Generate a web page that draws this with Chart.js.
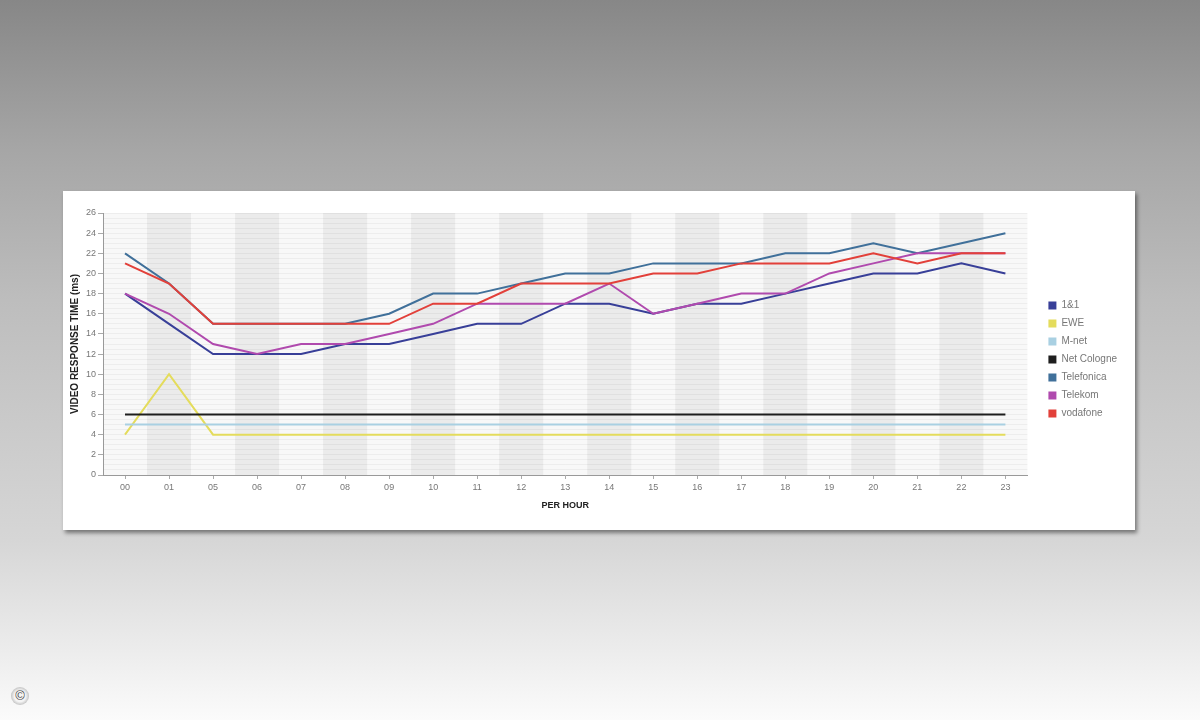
<!DOCTYPE html>
<html>
<head>
<meta charset="utf-8">
<script src="https://cdn.jsdelivr.net/npm/chart.js@4.4.1/dist/chart.umd.min.js"></script>
<style>
  html, body { margin: 0; padding: 0; }
  body {
    width: 1200px; height: 720px; overflow: hidden; position: relative;
    background: linear-gradient(to bottom, #878787 0px, #a6a6a6 150px, #bdbdbd 300px, #d6d6d6 540px, #ececec 650px, #fbfbfb 720px);
    font-family: "Liberation Sans", Arial, sans-serif;
  }
  #card {
    position: absolute; left: 63px; top: 191px; width: 1072px; height: 339px;
    background: #fff; box-shadow: 2px 3px 4px rgba(0,0,0,0.45);
  }
  #copy {
    position: absolute; left: 11px; top: 687px; width: 18px; height: 18px;
    border-radius: 50%; background: radial-gradient(#f4f4f4 45%, #bbb 75%, #888 100%);
    color: #444; font-size: 13px; line-height: 18px; text-align: center;
  }
</style>
</head>
<body>
<div id="card"><canvas id="chart" width="1072" height="339"></canvas></div>
<div id="copy">©</div>
<script>
const hours = ["00", "01", "05", "06", "07", "08", "09", "10", "11", "12", "13",
  "14", "15", "16", "17", "18", "19", "20", "21", "22", "23"];

const oneAndOne  = [18, 15, 12, 12, 12, 13, 13, 14, 15, 15, 17, 17, 16, 17, 17, 18, 19, 20, 20, 21, 20];
const ewe        = [4, 10, 4, 4, 4, 4, 4, 4, 4, 4, 4, 4, 4, 4, 4, 4, 4, 4, 4, 4, 4];
const mnet       = [5, 5, 5, 5, 5, 5, 5, 5, 5, 5, 5, 5, 5, 5, 5, 5, 5, 5, 5, 5, 5];
const netCologne = [6, 6, 6, 6, 6, 6, 6, 6, 6, 6, 6, 6, 6, 6, 6, 6, 6, 6, 6, 6, 6];
const telefonica = [22, 19, 15, 15, 15, 15, 16, 18, 18, 19, 20, 20, 21, 21, 21, 22, 22, 23, 22, 23, 24];
const telekom    = [18, 16, 13, 12, 13, 13, 14, 15, 17, 17, 17, 19, 16, 17, 18, 18, 20, 21, 22, 22, 22];
const vodafone   = [21, 19, 15, 15, 15, 15, 15, 17, 17, 19, 19, 19, 20, 20, 21, 21, 21, 22, 21, 22, 22];

const yTicks = { min: 0, max: 26, step: 2 };

const FONT = '"Liberation Sans", Arial, sans-serif';

function line(label, data, color, order) {
  return {
    label: label,
    data: data,
    borderColor: color,
    backgroundColor: color,
    borderWidth: 2,
    pointRadius: 0,
    tension: 0,
    fill: false,
    order: order,
  };
}

// grey / white columns behind the lines
const columnBands = {
  id: "columnBands",
  beforeDraw(chart) {
    const { ctx, chartArea, scales } = chart;
    const x = scales.x;
    const half = (x.getPixelForValue(1) - x.getPixelForValue(0)) / 2;
    ctx.save();
    ctx.fillStyle = "#f8f8f8";
    ctx.fillRect(chartArea.left, chartArea.top, chartArea.right - chartArea.left, chartArea.bottom - chartArea.top);
    ctx.fillStyle = "#ebebeb";
    hours.forEach((h, i) => {
      if (i % 2 === 1) {
        const c = x.getPixelForValue(i);
        ctx.fillRect(c - half, chartArea.top, half * 2, chartArea.bottom - chartArea.top);
      }
    });
    ctx.restore();
  },
};

new Chart(document.getElementById("chart"), {
  type: "line",
  data: {
    labels: hours,
    datasets: [
      line("1&1", oneAndOne, "#383f98", 2),
      line("EWE", ewe, "#e4dc5c", 6),
      line("M-net", mnet, "#a9d0e2", 5),
      line("Net Cologne", netCologne, "#1e1e1e", 4),
      line("Telefonica", telefonica, "#40709a", 3),
      line("Telekom", telekom, "#b04aae", 1),
      line("vodafone", vodafone, "#e2403a", 0),
    ],
  },
  options: {
    responsive: false,
    animation: false,
    layout: { padding: { top: 22, left: 5, bottom: 24, right: 8 } },
    plugins: {
      tooltip: { enabled: false },
      legend: {
        position: "right",
        labels: {
          boxWidth: 8,
          boxHeight: 8,
          padding: 8,
          color: "#777",
          font: { family: FONT, size: 10 },
          sort: (a, b) => a.datasetIndex - b.datasetIndex,
          generateLabels(chart) {
            return chart.data.datasets.map((ds, i) => ({
              text: ds.label,
              fillStyle: ds.borderColor,
              strokeStyle: ds.borderColor,
              fontColor: "#777",
              lineWidth: 0,
              datasetIndex: i,
              hidden: false,
            }));
          },
        },
      },
    },
    scales: {
      x: {
        offset: true,
        grid: { drawOnChartArea: false, offset: false, tickLength: 4, color: "#aaa" },
        border: { color: "#999" },
        ticks: { color: "#777", padding: 3, font: { family: FONT, size: 9 }, maxRotation: 0 },
        title: {
          display: true, text: "PER HOUR", color: "#222",
          font: { family: FONT, size: 9, weight: "bold" },
          padding: { top: 7, bottom: -5 },
        },
        afterFit(s) { s.height = 31; },
      },
      y: {
        min: yTicks.min,
        max: yTicks.max,
        grid: { drawOnChartArea: false, tickLength: 5, color: "#aaa" },
        border: { color: "#999" },
        ticks: { stepSize: yTicks.step, color: "#777", padding: 2, font: { family: FONT, size: 9 } },
        title: {
          display: true, text: "VIDEO RESPONSE TIME (ms)", color: "#222",
          font: { family: FONT, size: 10, weight: "bold" },
          padding: { top: 1, bottom: 0 },
        },
        afterFit(s) { s.width = 35; },
      },
      yGrid: {
        position: "left",
        min: yTicks.min,
        max: yTicks.max,
        ticks: { display: false, stepSize: 0.5 },
        grid: { color: "rgba(0,0,0,0.045)", drawTicks: false },
        border: { display: false },
        afterFit(s) { s.width = 0; },
      },
      gap: {
        type: "linear",
        position: "right",
        min: 0,
        max: 1,
        ticks: { display: false },
        grid: { display: false },
        border: { display: false },
        afterFit(s) { s.width = 13; },
      },
    },
  },
  plugins: [columnBands],
});
</script>
</body>
</html>
